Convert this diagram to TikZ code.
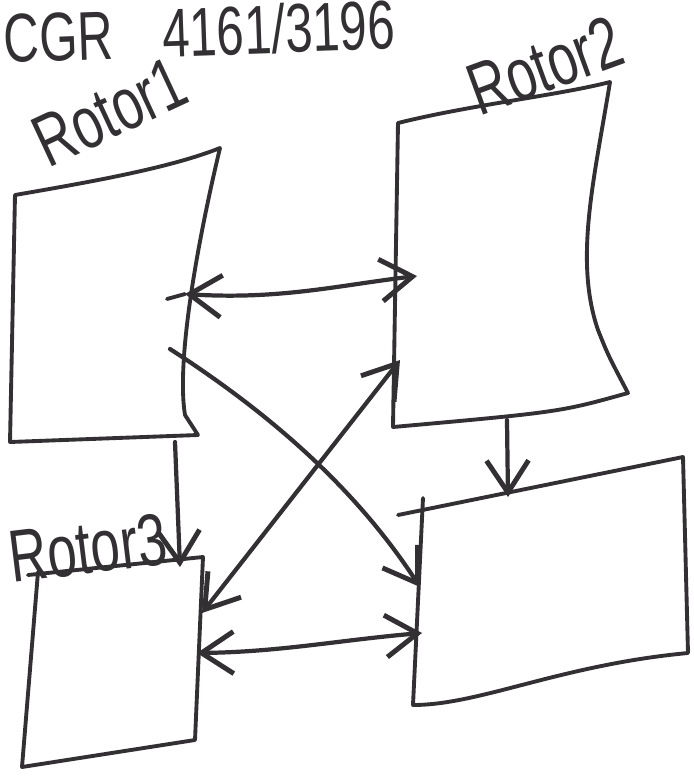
\documentclass[tikz,border=0pt]{standalone}
\usepackage{fontspec}
\setmainfont{Liberation Sans}
\usetikzlibrary{arrows.meta}
\definecolor{ink}{HTML}{333033}
\tikzset{
  pen/.style={draw=ink, line width=1.1pt, line cap=round, line join=round},
  arr/.style={pen, line width=1.2pt, -{Straight Barb[length=3.2mm,width=4.2mm,line width=1.4pt]}},
  darr/.style={pen, line width=1.2pt, {Straight Barb[length=3.2mm,width=4.2mm,line width=1.4pt]}-{Straight Barb[length=3.2mm,width=4.2mm,line width=1.4pt]}},
  lbl/.style={text=ink, inner sep=0pt, font=\fontsize{15}{15}\selectfont},
  ttl/.style={text=ink, inner sep=0pt, font=\fontsize{14}{14}\selectfont}
}
\newcommand{\tallt}[1]{\scalebox{1}[1.4]{#1}}
\begin{document}
\begin{tikzpicture}[x=0.01cm,y=-0.01cm]
\useasboundingbox[fill=white] (0,0) rectangle (693,778);
% boxes
\draw[pen] (15,195) .. controls (90,182) and (170,168) .. (220,148)
  .. controls (198,240) and (176,360) .. (185,415) -- (198,435) -- (10,442) -- cycle;
\draw[pen] (398,123) .. controls (470,105) and (560,95) .. (610,82)
  .. controls (594,180) and (574,260) .. (598,330) .. controls (608,355) .. (628,393)
  .. controls (560,412) .. (393,427) -- cycle;
\draw[pen] (398,515) -- (683,457) -- (688,653) .. controls (560,665) and (480,705) .. (413,705) -- (423,498);
\draw[pen] (28,575) -- (203,557) -- (195,740) -- (22,767) -- (38,572);
% connector end points
\coordinate (r1e) at (185,294);
\coordinate (r2w) at (417,276);
\coordinate (r1c) at (170,349);
\coordinate (r4nw) at (420,587);
\coordinate (r2sw) at (400,360);
\coordinate (r3ne) at (202,613);
\coordinate (r3e) at (197,653);
\coordinate (r4w) at (422,633);
\coordinate (r1s) at (175,442);
\coordinate (r3n) at (180,567);
\coordinate (r2s) at (507,420);
\coordinate (r4n) at (508,497);
% connectors
\draw[darr] (r1e) .. controls (280,300) and (340,285) .. (r2w);
\draw[pen] (167,299) -- (r1e);
\draw[arr] (r1c) .. controls (280,420) and (360,495) .. (r4nw);
\draw[darr] (r3ne) -- (r2sw);
\draw[darr] (r3e) .. controls (280,652) and (340,640) .. (r4w);
\draw[arr] (r1s) -- (r3n);
\draw[arr] (r2s) -- (r4n);
% labels
\node[ttl, rotate=2, anchor=west] (title) at (3,38) {\tallt{CGR\hspace{1em}4161/3196}};
\node[lbl, rotate=25] (l1) at (110,112) {\tallt{Rotor1}};
\node[lbl, rotate=20] (l2) at (545,66) {\tallt{Rotor2}};
\node[lbl, rotate=7] (l3) at (88,548) {\tallt{Rotor3}};
\end{tikzpicture}
\end{document}
